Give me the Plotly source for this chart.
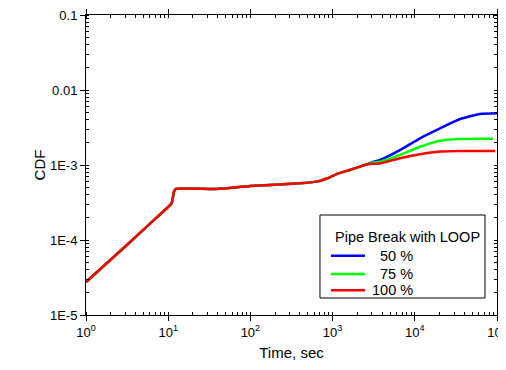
import plotly.graph_objects as go

time_common = [1, 3, 9.1, 11.0, 11.75, 12.4, 39, 99, 398, 640, 850, 1180, 1620, 2150]
cdf_common = [2.75e-5, 8.2e-5, 2.51e-4, 3.08e-4, 4.4e-4, 4.79e-4, 4.79e-4, 5.25e-4, 5.7e-4,
              6.0e-4, 6.6e-4, 7.74e-4, 8.57e-4, 9.5e-4]

time_tail = [2820, 3780, 6600, 11560, 20280, 35480, 62100]

time_50 = time_common + time_tail + [100000]
cdf_50 = cdf_common + [1.06e-3, 1.17e-3, 1.58e-3, 2.27e-3, 3.08e-3, 4.1e-3, 4.79e-3, 4.89e-3]

time_75 = time_common + time_tail + [90000]
cdf_75 = cdf_common + [1.05e-3, 1.11e-3, 1.36e-3, 1.75e-3, 2.11e-3, 2.22e-3, 2.24e-3, 2.24e-3]

time_100 = time_common + time_tail + [95000]
cdf_100 = cdf_common + [1.03e-3, 1.05e-3, 1.23e-3, 1.39e-3, 1.51e-3, 1.54e-3, 1.54e-3, 1.54e-3]

legend_title = "Pipe Break with LOOP"
labels = ["\u00a0\u00a050 %", "\u00a0\u00a075 %", "100 %"]
colors = ["#0000FF", "#00FF00", "#FF0000"]

x_tickvals = [1, 10, 100, 1000, 10000, 100000]
x_ticktext = ["10<sup>%d</sup>" % i for i in range(6)]
y_tickvals = [1e-5, 1e-4, 1e-3, 1e-2, 1e-1]
y_ticktext = ["1E-5", "1E-4", "1E-3", "0.01", "0.1"]

font = "Liberation Sans, Arial, sans-serif"

fig = go.Figure()
for t, c, lab, col in [(time_50, cdf_50, labels[0], colors[0]),
                       (time_75, cdf_75, labels[1], colors[1]),
                       (time_100, cdf_100, labels[2], colors[2])]:
    fig.add_trace(go.Scatter(x=t, y=c, mode="lines", name=lab, showlegend=False,
                             line=dict(color=col, width=2.5, shape="spline", smoothing=0.5)))

# legend drawn as a boxed key (paper coordinates of the plot area)
box = dict(x0=0.5693, x1=0.9708, y0=0.0567, y1=0.3333)
fig.add_shape(type="rect", xref="paper", yref="paper", **box,
              line=dict(color="black", width=1), fillcolor="white", layer="above")
fig.add_annotation(xref="paper", yref="paper", x=0.601, y=0.26, xanchor="left", yanchor="middle",
                   text=legend_title, showarrow=False, font=dict(family=font, size=14.5, color="black"))
entry_y = [0.1977, 0.1367, 0.0823]
for lab, col, yy in zip(labels, colors, entry_y):
    fig.add_shape(type="line", xref="paper", yref="paper", x0=0.596, x1=0.6788, y0=yy, y1=yy,
                  line=dict(color=col, width=2.5), layer="above")
    fig.add_annotation(xref="paper", yref="paper", x=0.691, y=yy, xanchor="left", yanchor="middle",
                       text=lab, showarrow=False, font=dict(family=font, size=14.5, color="black"))

axis_common = dict(type="log", showline=True, linecolor="black", linewidth=1, mirror="allticks",
                   showgrid=False, zeroline=False, ticks="outside", ticklen=5, tickwidth=1,
                   tickcolor="black", automargin=False, ticklabeloverflow="allow",
                   tickfont=dict(family=font, size=13, color="black"),
                   minor=dict(ticks="inside", ticklen=3, tickwidth=1, tickcolor="black",
                              dtick="D1", showgrid=False))

# the page body adds an 8px offset, so the figure is sized to the remaining window
fig.update_layout(
    width=498, height=362,
    margin=dict(l=78, r=9, t=7, b=55),
    paper_bgcolor="white", plot_bgcolor="white",
    font=dict(family=font, size=13, color="black"),
    xaxis=dict(axis_common, range=[0, 5], tickvals=x_tickvals, ticktext=x_ticktext,
               title=dict(text="Time, sec", font=dict(family=font, size=15), standoff=8)),
    yaxis=dict(axis_common, range=[-5, -1], tickvals=y_tickvals, ticktext=y_ticktext,
               title=dict(text="CDF", font=dict(family=font, size=15), standoff=0)),
    showlegend=False,
)

fig.write_html("out.html")
